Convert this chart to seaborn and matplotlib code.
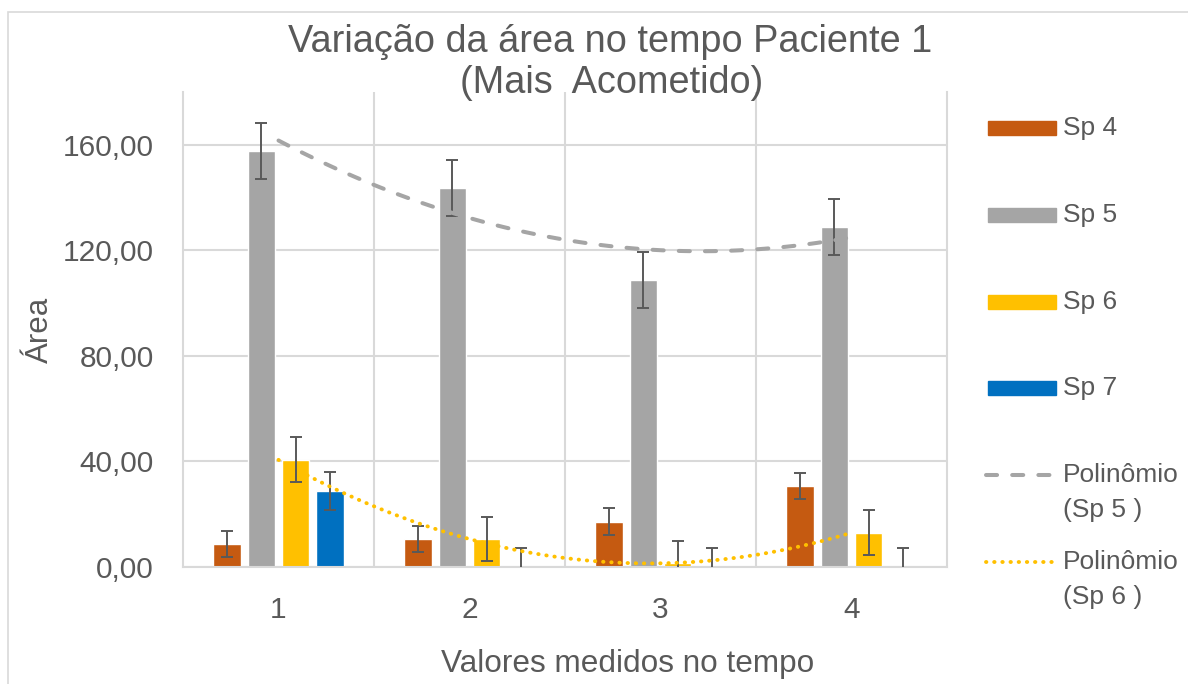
import matplotlib.pyplot as plt
import numpy as np
import pandas as pd
import seaborn as sns
from matplotlib.lines import Line2D
from matplotlib.patches import Rectangle

# valores (área média por tempo)
tempos = ["1", "2", "3", "4"]
series = ["Sp 4", "Sp 5", "Sp 6", "Sp 7"]
sp4 = [8.7, 10.7, 17.2, 30.7]
sp5 = [157.8, 143.7, 108.6, 128.8]
sp6 = [40.6, 10.6, 1.4, 13.0]
sp7 = [28.8, 0.0, 0.0, 0.0]
erro = {"Sp 4": 5.0, "Sp 5": 10.6, "Sp 6": 8.5, "Sp 7": 7.3}
cores = {"Sp 4": "#C55A11", "Sp 5": "#A5A5A5", "Sp 6": "#FFC000", "Sp 7": "#0070C0"}

TEXT = "#595959"
GRID = "#D9D9D9"
W, H = 1188, 684

sns.set_theme(style="white")
plt.rcParams["font.family"] = ["Liberation Sans", "DejaVu Sans"]

df = pd.DataFrame({
    "tempo": np.tile(tempos, len(series)),
    "serie": np.repeat(series, len(tempos)),
    "area": sp4 + sp5 + sp6 + sp7,
})

fig = plt.figure(figsize=(W / 100, H / 100), dpi=100)
ax = fig.add_axes([183 / W, 1 - 567 / H, (947 - 183) / W, (567 - 92) / H])

sns.barplot(data=df, x="tempo", y="area", hue="serie", palette=cores,
            width=0.72, gap=0.2, saturation=1, errorbar=None, legend=False, ax=ax)

# barras de erro (valores fixos por série)
for nome, cont in zip(series, ax.containers):
    xs = [b.get_x() + b.get_width() / 2 for b in cont]
    ys = [b.get_height() for b in cont]
    ax.errorbar(xs, ys, yerr=erro[nome], fmt="none", ecolor=TEXT,
                elinewidth=1.4, capsize=4.5, capthick=1.4, zorder=3)

# linhas de tendência polinomiais (ordem 2)
dash5 = dict(color="#A5A5A5", lw=2.9, dashes=(2.75, 3.75))
dot6 = dict(color="#FFC000", lw=2.8, dashes=(0.1, 2.0))
x_num = np.arange(len(tempos))
sns.regplot(x=x_num, y=sp5, order=2, ci=None, scatter=False, ax=ax,
            line_kws=dict(dash_capstyle="round", zorder=4, **dash5))
sns.regplot(x=x_num, y=sp6, order=2, ci=None, scatter=False, ax=ax,
            line_kws=dict(dash_capstyle="round", zorder=4, **dot6))

ax.set_xlim(-0.5, 3.5)
ax.set_ylim(0, 180)
ax.set_yticks(np.arange(0, 161, 40))
ax.yaxis.set_major_formatter(lambda v, p: f"{v:.2f}".replace(".", ","))
ax.set_xticks(x_num, tempos)
ax.set_xticks(np.arange(0.5, 3, 1), minor=True)
ax.grid(axis="y", which="major", color=GRID, lw=1.5)
ax.grid(axis="x", which="minor", color=GRID, lw=1.5)
ax.set_axisbelow(True)
ax.tick_params(which="both", length=0, pad=21, labelsize=21.5, colors=TEXT)
ax.set_xlabel("")
ax.set_ylabel("")
ax.spines["top"].set_visible(False)
for s in ["left", "right", "bottom"]:
    ax.spines[s].set_color(GRID)
    ax.spines[s].set_linewidth(1.5)

# títulos
fig.text(610 / W, 1 - 52 / H, "Variação da área no tempo Paciente 1",
         ha="center", va="baseline", fontsize=27.3, color=TEXT)
fig.text(612 / W, 1 - 93 / H, "(Mais  Acometido)",
         ha="center", va="baseline", fontsize=27.3, color=TEXT)
fig.text(40 / W, 1 - 330 / H, "Área", rotation=90, ha="center", va="center",
         fontsize=22.5, color=TEXT)
fig.text(628 / W, 1 - 672 / H, "Valores medidos no tempo", ha="center",
         va="baseline", fontsize=22.7, color=TEXT)

# legenda à direita, no estilo do Excel
linhas = [128 + 86.8 * i for i in range(6)]
for nome, y in zip(series, linhas[:4]):
    fig.add_artist(Rectangle((988 / W, 1 - (y + 7) / H), 68 / W, 14 / H,
                             color=cores[nome], transform=fig.transFigure))
    fig.text(1063 / W, 1 - y / H, nome, va="center", fontsize=19, color=TEXT)

for (rot, kw), y in zip([("(Sp 5 )", dash5), ("(Sp 6 )", dot6)], linhas[4:]):
    fig.add_artist(Line2D([986 / W, 1054 / W], [1 - y / H] * 2,
                          transform=fig.transFigure, dash_capstyle="round", **kw))
    fig.text(1063 / W, 1 - y / H, "Polinômio", va="center", fontsize=19, color=TEXT)
    fig.text(1063 / W, 1 - (y + 35) / H, rot, va="center", fontsize=19, color=TEXT)

# moldura do gráfico
fig.add_artist(Rectangle((8 / W, -0.05), 1.0, 1 - 12 / H + 0.05, fill=False,
                         edgecolor=GRID, lw=1.2, transform=fig.transFigure))

fig.savefig("out.png", dpi=100)
plt.close(fig)
